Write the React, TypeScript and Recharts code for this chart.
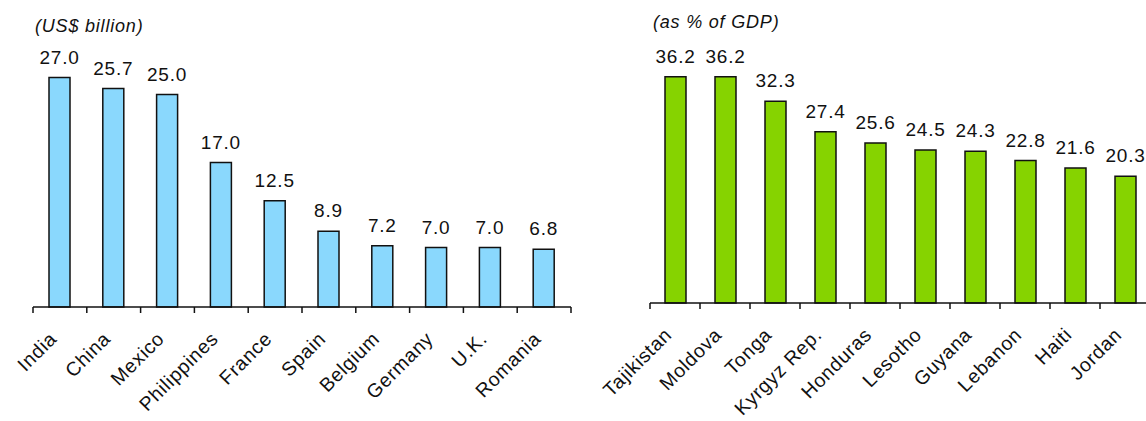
import React from 'react';
import { BarChart, Bar, XAxis, YAxis, LabelList } from 'recharts';

// remittance receipts, US$ billion
const bnCountries = ['India', 'China', 'Mexico', 'Philippines', 'France', 'Spain', 'Belgium', 'Germany', 'U.K.', 'Romania'];
const bnValues = [27.0, 25.7, 25.0, 17.0, 12.5, 8.9, 7.2, 7.0, 7.0, 6.8];

// remittance receipts as % of GDP
const gdpCountries = ['Tajikistan', 'Moldova', 'Tonga', 'Kyrgyz Rep.', 'Honduras', 'Lesotho', 'Guyana', 'Lebanon', 'Haiti', 'Jordan'];
const gdpValues = [36.2, 36.2, 32.3, 27.4, 25.6, 24.5, 24.3, 22.8, 21.6, 20.3];

const FONT = 'Arial, "Liberation Sans", sans-serif';

const toRows = (names: string[], values: number[]) =>
  names.map((name, i) => ({ name, value: values[i] }));

// category label rotated 45deg, with tick marks on the band edges
function EdgeTick(props: any) {
  const { x, y, payload, index, count } = props;
  const half = payload?.offset ?? 0;
  const lx = x - 2;
  const ly = y + 27;
  return (
    <g>
      <line x1={x - half} x2={x - half} y1={y - 6} y2={y} stroke="#111" strokeWidth={1.5} />
      {index === count - 1 && (
        <line x1={x + half} x2={x + half} y1={y - 6} y2={y} stroke="#111" strokeWidth={1.5} />
      )}
      <text
        x={lx}
        y={ly}
        textAnchor="end"
        transform={`rotate(-45 ${lx} ${ly})`}
        fontFamily={FONT}
        fontSize={19.5}
        letterSpacing={0.7}
        fill="#111"
      >
        {payload.value}
      </text>
    </g>
  );
}

function ValueLabel(props: any) {
  const { x, y, width, value } = props;
  return (
    <text
      x={x + width / 2}
      y={y - 14}
      textAnchor="middle"
      fontFamily={FONT}
      fontSize={19}
      letterSpacing={0.8}
      fill="#111"
    >
      {Number(value).toFixed(1)}
    </text>
  );
}

interface PanelProps {
  rows: { name: string; value: number }[];
  fill: string;
  max: number;
  width: number;
  axisHeight: number;
  margin: { top: number; right: number; bottom: number; left: number };
}

function Panel({ rows, fill, max, width, axisHeight, margin }: PanelProps) {
  return (
    <BarChart width={width} height={421} data={rows} margin={margin}>
      <XAxis
        dataKey="name"
        interval={0}
        height={axisHeight}
        axisLine={{ stroke: '#111', strokeWidth: 1.5 }}
        tickLine={false}
        tickSize={6}
        tickMargin={0}
        tick={<EdgeTick count={rows.length} />}
      />
      <YAxis hide domain={[0, max]} />
      <Bar dataKey="value" fill={fill} stroke="#111" strokeWidth={1.5} barSize={21} isAnimationActive={false}>
        <LabelList dataKey="value" content={<ValueLabel />} />
      </Bar>
    </BarChart>
  );
}

const titleStyle: React.CSSProperties = {
  position: 'absolute',
  fontFamily: FONT,
  fontStyle: 'italic',
  fontSize: 18,
  lineHeight: '18px',
  letterSpacing: 0.8,
  color: '#111',
  whiteSpace: 'nowrap',
};

export default function App() {
  return (
    <div style={{ position: 'absolute', left: 0, top: 0, width: 1146, height: 421, overflow: 'hidden', background: '#fff' }}>
      <div style={{ position: 'absolute', left: 0, top: 0 }}>
        <Panel
          rows={toRows(bnCountries, bnValues)}
          fill="#8AD8FD"
          max={30}
          width={580}
          axisHeight={114}
          margin={{ top: 52, right: 9, bottom: 0, left: 33 }}
        />
      </div>
      <div style={{ position: 'absolute', left: 580, top: 0 }}>
        <Panel
          rows={toRows(gdpCountries, gdpValues)}
          fill="#86D300"
          max={40}
          width={572}
          axisHeight={118}
          margin={{ top: 53, right: 2, bottom: 0, left: 70 }}
        />
      </div>
      <div style={{ ...titleStyle, left: 35, top: 17 }}>(US$ billion)</div>
      <div style={{ ...titleStyle, left: 653, top: 13 }}>(as % of GDP)</div>
    </div>
  );
}
